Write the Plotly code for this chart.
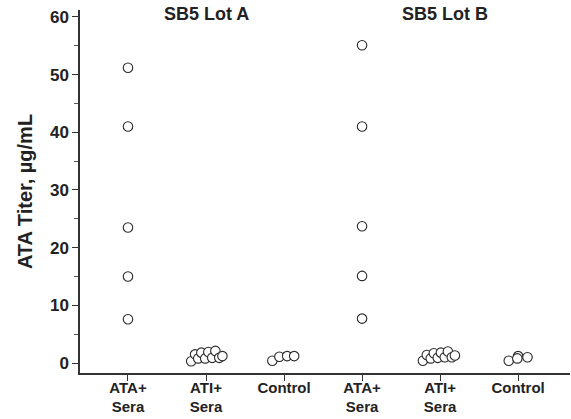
import plotly.graph_objects as go

# ---- data ----
categories = ["ATA+<br>Sera", "ATI+<br>Sera", "Control", "ATA+<br>Sera", "ATI+<br>Sera", "Control"]
lot_titles = ["SB5 Lot A", "SB5 Lot B"]

ata_lot_a = [51.2, 41.0, 23.5, 15.0, 7.6]
ati_lot_a = [0.3, 1.5, 0.8, 1.8, 0.8, 1.9, 0.9, 2.1, 0.9, 1.2]
ctrl_lot_a = [0.4, 1.1, 1.2, 1.2]

ata_lot_b = [55.1, 41.0, 23.7, 15.1, 7.7]
ati_lot_b = [0.4, 1.4, 0.8, 1.7, 0.9, 1.8, 1.0, 2.0, 1.0, 1.3]
ctrl_lot_b = [0.4, 1.2, 0.8, 1.0]

groups = [ata_lot_a, ati_lot_a, ctrl_lot_a, ata_lot_b, ati_lot_b, ctrl_lot_b]

# ---- horizontal spread of overlapping points (category units) ----
jitter = [
    [0, 0, 0, 0, 0],
    [-0.19, -0.14, -0.10, -0.06, -0.01, 0.03, 0.08, 0.12, 0.17, 0.21],
    [-0.15, -0.06, 0.04, 0.13],
    [0, 0, 0, 0, 0],
    [-0.22, -0.17, -0.12, -0.08, -0.03, 0.01, 0.06, 0.10, 0.15, 0.19],
    [-0.12, 0.0, -0.01, 0.12],
]

fig = go.Figure()
xs, ys = [], []
for i, (vals, offs) in enumerate(zip(groups, jitter)):
    for v, o in zip(vals, offs):
        xs.append(i + o)
        ys.append(v)

fig.add_trace(go.Scatter(
    x=xs, y=ys, mode="markers",
    marker=dict(symbol="circle", size=9.5, color="white",
                line=dict(color="#2a2a2a", width=1.1)),
    showlegend=False, hoverinfo="y",
))

font_family = "Liberation Sans, Arial, sans-serif"

title_xshift = [0, 5]
for k, t in enumerate(lot_titles):
    fig.add_annotation(
        x=1 + 3 * k, y=1.0, xref="x", yref="paper", yanchor="bottom",
        text="<b>%s</b>" % t, showarrow=False, xshift=title_xshift[k],
        font=dict(family=font_family, size=18, color="#222"), yshift=-16,
    )

fig.update_layout(
    width=571, height=419,
    margin=dict(l=80, r=1, t=10, b=46),
    paper_bgcolor="white", plot_bgcolor="white",
    font=dict(family=font_family, color="#222"),
    xaxis=dict(
        range=[-0.615, 5.665], automargin=False,
        tickmode="array", tickvals=list(range(len(categories))),
        ticktext=["<b>%s</b>" % c for c in categories],
        tickfont=dict(size=15, color="#222"),
        ticklabelstandoff=-6,
        ticks="outside", ticklen=6, tickwidth=1.2, tickcolor="#333",
        showline=True, linecolor="#333", linewidth=1.5,
        showgrid=False, zeroline=False,
    ),
    yaxis=dict(
        range=[-1.73, 61.2], automargin=False,
        tickmode="array", tickvals=[0, 10, 20, 30, 40, 50, 60],
        ticktext=["<b>%d</b>" % v for v in [0, 10, 20, 30, 40, 50, 60]],
        tickfont=dict(size=17, color="#222"),
        ticks="outside", ticklen=6, tickwidth=1.2, tickcolor="#333",
        minor=dict(tickvals=[5, 15, 25, 35, 45, 55], ticks="outside",
                   ticklen=4, tickwidth=1, tickcolor="#555"),
        showline=True, linecolor="#333", linewidth=1.5,
        showgrid=False, zeroline=False,
        title=dict(text="<b>ATA Titer, µg/mL</b>", standoff=12,
                   font=dict(size=20, color="#222")),
    ),
)

fig.write_html(
    "out.html",
    config={"displayModeBar": False},
    post_script="document.body.style.margin='0px';document.body.style.overflow='hidden';",
)
